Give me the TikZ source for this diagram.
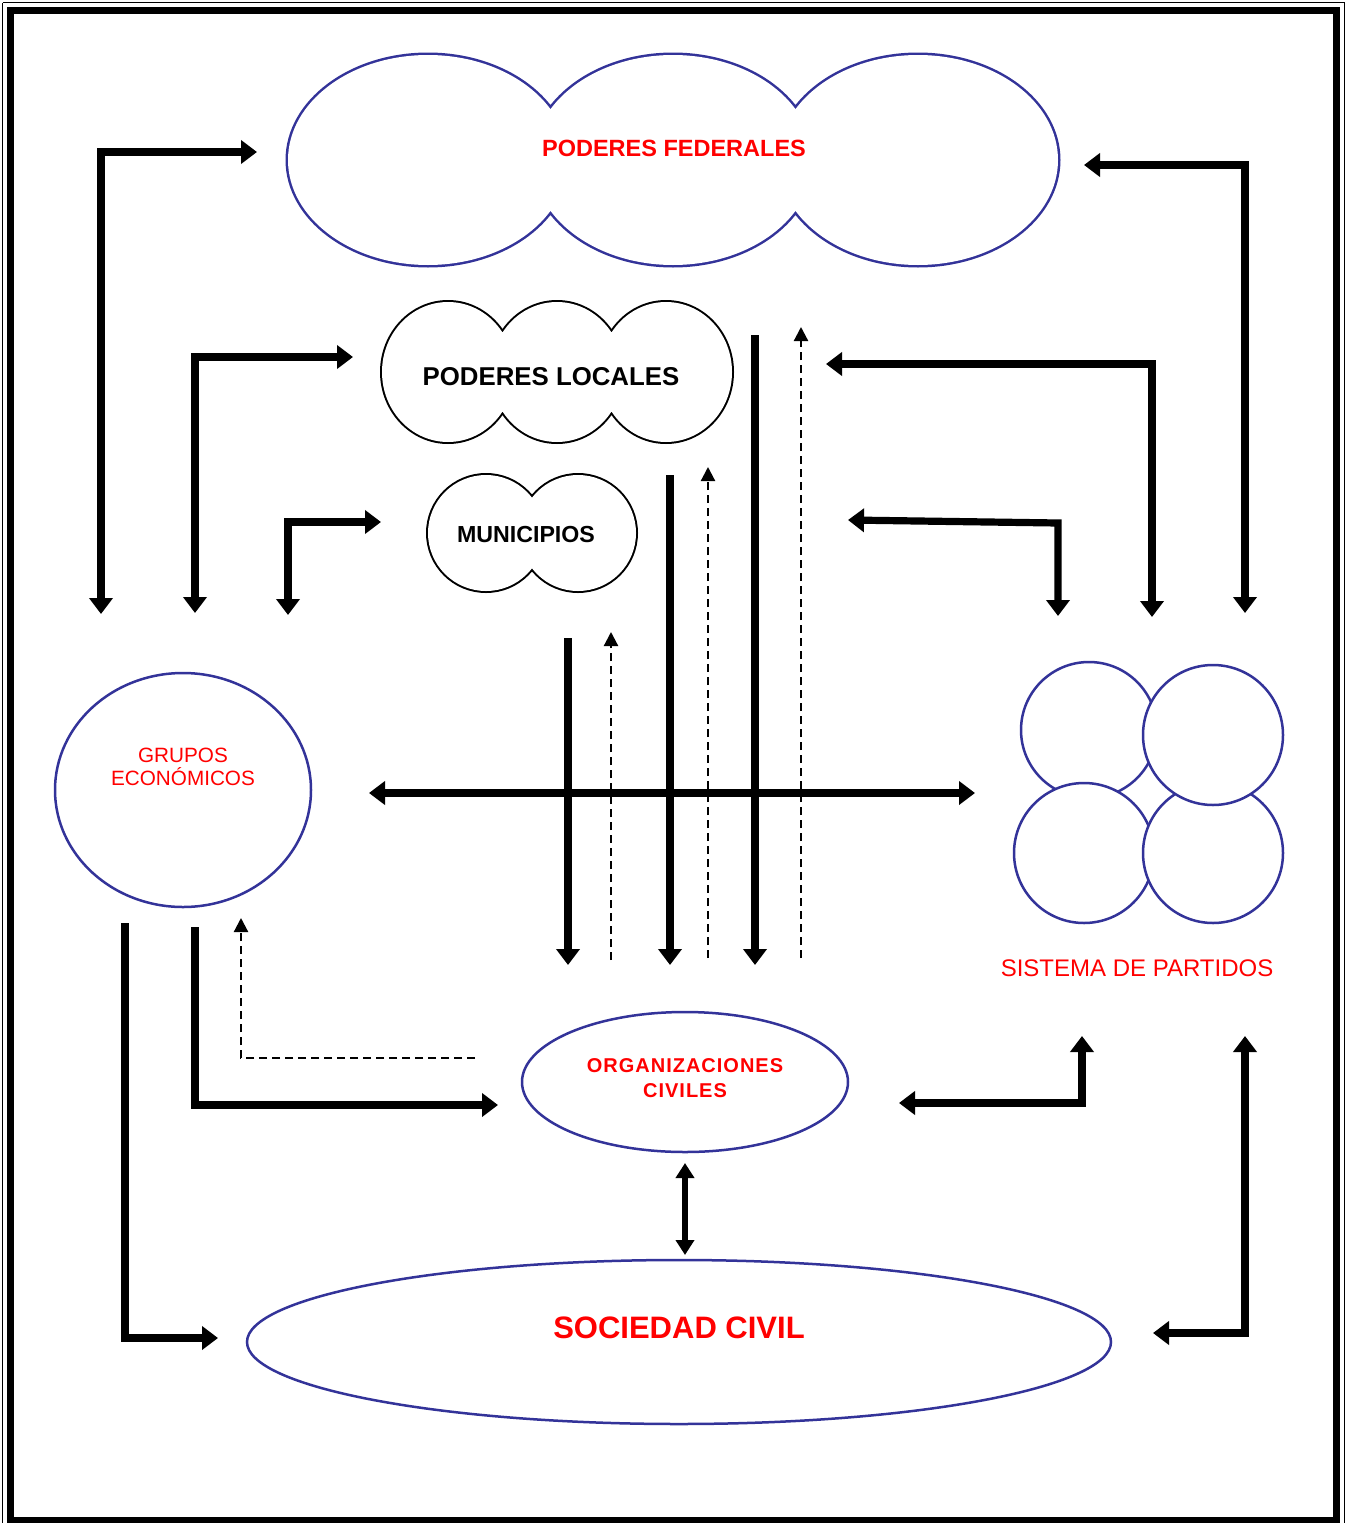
\documentclass[tikz,border=0pt]{standalone}
\usepackage{fontspec}
\setmainfont{Liberation Sans}
\usetikzlibrary{arrows.meta}

\definecolor{navyline}{RGB}{51,51,153}
\definecolor{labelred}{RGB}{255,0,0}

\tikzset{
  heavy/.style={line width=7.2pt, line join=miter,
    >={Triangle[width=23pt,length=16pt]}},
  medium/.style={line width=5.5pt,
    >={Triangle[width=18pt,length=15pt]}},
  dashedflow/.style={line width=2.2pt, dash pattern=on 8pt off 5pt,
    >={Triangle[width=14pt,length=14pt]}},
  txt/.style={inner sep=0pt, align=center},
  bluecloud/.style={draw=navyline, line width=5pt},
  blackcloud/.style={draw=black, line width=4pt},
  blueshape/.style={draw=navyline, fill=white, line width=2.5pt},
}

\begin{document}
\begin{tikzpicture}[x=1pt,y=-1pt]
\useasboundingbox (0,0) rectangle (1347,1523);

% frame
\draw[line width=1.5pt] (2.5,2.5) -- (1344.5,2.5) -- (1344.5,1523) (2.5,1523) -- (2.5,2.5);
\draw[line width=7pt] (10.5,10) rectangle (1336.5,1520);

% ---------- Poderes federales (three-lobed cloud) ----------
\draw[bluecloud] (428,160) ellipse [x radius=140, y radius=105]
                 (673,160) ellipse [x radius=140, y radius=105]
                 (918,160) ellipse [x radius=140, y radius=105];
\fill[white] (428,160) ellipse [x radius=140, y radius=105]
             (673,160) ellipse [x radius=140, y radius=105]
             (918,160) ellipse [x radius=140, y radius=105];
\node[txt, text=labelred, font=\bfseries\fontsize{23.5}{28}\selectfont] (fed) at (674,148) {PODERES FEDERALES};

% ---------- Poderes locales ----------
\draw[blackcloud] (448,372) ellipse [x radius=66, y radius=70]
                  (557,372) ellipse [x radius=66, y radius=70]
                  (666,372) ellipse [x radius=66, y radius=70];
\fill[white] (448,372) ellipse [x radius=66, y radius=70]
             (557,372) ellipse [x radius=66, y radius=70]
             (666,372) ellipse [x radius=66, y radius=70];
\node[txt, font=\bfseries\fontsize{25.8}{30}\selectfont] (loc) at (551,377) {PODERES LOCALES};

% ---------- Municipios ----------
\draw[blackcloud] (486,533) circle [radius=58] (578,533) circle [radius=58];
\fill[white] (486,533) circle [radius=58] (578,533) circle [radius=58];
\node[txt, font=\bfseries\fontsize{23.2}{28}\selectfont] (mun) at (526,535) {MUNICIPIOS};

% ---------- Grupos económicos ----------
\draw[blueshape] (183,790) ellipse [x radius=128, y radius=117];
\node[txt, text=labelred, font=\fontsize{20.7}{23}\selectfont] (gru) at (183,767) {GRUPOS\\ECONÓMICOS};

% ---------- Sistema de partidos ----------
\draw[blueshape] (1089,730) circle [radius=68];
\draw[blueshape] (1084,853) circle [radius=70];
\draw[blueshape] (1213,853) circle [radius=70];
\draw[blueshape] (1213,735) circle [radius=70];
\node[txt, text=labelred, font=\fontsize{24}{28}\selectfont] (sis) at (1137,968) {SISTEMA DE PARTIDOS};

% ---------- Organizaciones civiles ----------
\draw[blueshape] (685,1082) ellipse [x radius=163, y radius=70];
\node[txt, text=labelred, font=\bfseries\fontsize{20}{25}\selectfont\addfontfeature{LetterSpace=5}] (org) at (685,1078) {ORGANIZACIONES\\CIVILES};

% ---------- Sociedad civil ----------
\draw[blueshape] (679,1342) ellipse [x radius=432, y radius=82];
\node[txt, text=labelred, font=\bfseries\fontsize{31}{36}\selectfont] (soc) at (679,1328) {SOCIEDAD CIVIL};

% ---------- arrow end points ----------
\coordinate (a1s) at (257,152);  \coordinate (a1c) at (101,152);  \coordinate (a1e) at (101,614);
\coordinate (a2s) at (353,357);  \coordinate (a2c) at (195,357);  \coordinate (a2e) at (195,613);
\coordinate (a3s) at (381,522);  \coordinate (a3c) at (288,522);  \coordinate (a3e) at (288,615);
\coordinate (a4s) at (1084,165); \coordinate (a4c) at (1245,165); \coordinate (a4e) at (1245,613);
\coordinate (a5s) at (826,364);  \coordinate (a5c) at (1152,364); \coordinate (a5e) at (1152,617);
\coordinate (a6s) at (848,520);  \coordinate (a6c) at (1058,523); \coordinate (a6e) at (1058,616);
\coordinate (hl) at (369,793);   \coordinate (hr) at (975,793);
\coordinate (v1t) at (568,638);  \coordinate (v1b) at (568,965);
\coordinate (v2t) at (670,475);  \coordinate (v2b) at (670,965);
\coordinate (v3t) at (755,335);  \coordinate (v3b) at (755,965);
\coordinate (d1b) at (611,960);  \coordinate (d1t) at (611,632);
\coordinate (d2b) at (708,958);  \coordinate (d2t) at (708,467);
\coordinate (d3b) at (801,958);  \coordinate (d3t) at (801,327);
\coordinate (d4s) at (475,1058); \coordinate (d4c) at (241,1058); \coordinate (d4e) at (241,918);
\coordinate (b1s) at (195,927);  \coordinate (b1c) at (195,1105); \coordinate (b1e) at (498,1105);
\coordinate (b2s) at (125,923);  \coordinate (b2c) at (125,1338); \coordinate (b2e) at (218,1338);
\coordinate (b3s) at (899,1103); \coordinate (b3c) at (1082,1103);\coordinate (b3e) at (1082,1036);
\coordinate (b4s) at (1153,1333);\coordinate (b4c) at (1245,1333);\coordinate (b4e) at (1245,1036);
\coordinate (ost) at (685,1163); \coordinate (osb) at (685,1255);

% ---------- connectors ----------
\draw[heavy,<->] (a1s) -- (a1c) -- (a1e);
\draw[heavy,<->] (a2s) -- (a2c) -- (a2e);
\draw[heavy,<->] (a3s) -- (a3c) -- (a3e);
\draw[heavy,<->] (a4s) -- (a4c) -- (a4e);
\draw[heavy,<->] (a5s) -- (a5c) -- (a5e);
\draw[heavy,<->] (a6s) -- (a6c) -- (a6e);

\draw[heavy,->] (v1t) -- (v1b);
\draw[heavy,->] (v2t) -- (v2b);
\draw[heavy,->] (v3t) -- (v3b);
\draw[heavy,<->] (hl) -- (hr);

\draw[dashedflow,->] (d1b) -- (d1t);
\draw[dashedflow,->] (d2b) -- (d2t);
\draw[dashedflow,->] (d3b) -- (d3t);
\draw[dashedflow,->] (d4s) -- (d4c) -- (d4e);

\draw[heavy,->] (b1s) -- (b1c) -- (b1e);
\draw[heavy,->] (b2s) -- (b2c) -- (b2e);
\draw[heavy,<->] (b3s) -- (b3c) -- (b3e);
\draw[heavy,<->] (b4s) -- (b4c) -- (b4e);
\draw[medium,<->] (ost) -- (osb);
\end{tikzpicture}
\end{document}
